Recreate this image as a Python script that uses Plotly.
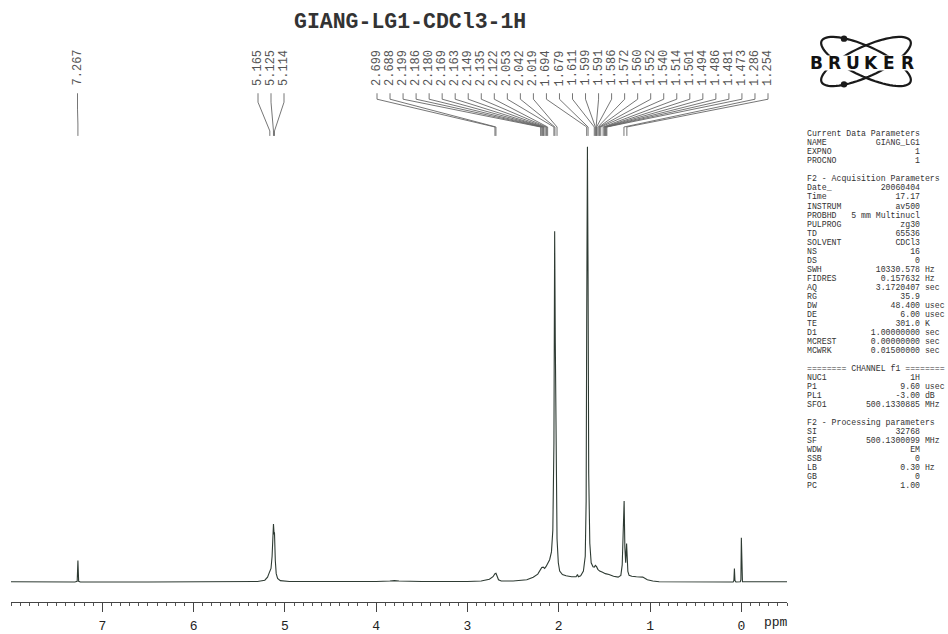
import math
import plotly.graph_objects as go

W, H = 948, 634

# ---------------- data ----------------
title_text = "GIANG-LG1-CDCl3-1H"

ppm = [8.00, 7.60, 7.30, 7.275, 7.267, 7.259, 7.24, 6.50, 5.60, 5.30, 5.22, 5.19, 5.175, 5.165,
       5.152, 5.14, 5.13, 5.125, 5.118, 5.114, 5.105, 5.095, 5.08, 5.05, 4.95, 4.50, 4.00, 3.85,
       3.80, 3.75, 3.50, 3.00, 2.85, 2.76, 2.72, 2.699, 2.688, 2.675, 2.66, 2.63, 2.50, 2.35,
       2.28, 2.23, 2.199, 2.186, 2.17, 2.155, 2.14, 2.122, 2.10, 2.08, 2.065, 2.053, 2.045,
       2.038, 2.030, 2.019, 2.005, 1.99, 1.96, 1.92, 1.86, 1.81, 1.795, 1.785, 1.76, 1.73,
       1.71, 1.700, 1.694, 1.686, 1.679, 1.672, 1.66, 1.645, 1.625, 1.611, 1.599, 1.586, 1.572,
       1.552, 1.52, 1.49, 1.45, 1.40, 1.35, 1.32, 1.305, 1.295, 1.284, 1.276, 1.267, 1.257,
       1.251, 1.243, 1.23, 1.20, 1.15, 1.08, 1.03, 0.97, 0.90, 0.50, 0.09, 0.082, 0.076, 0.070,
       0.060, 0.012, 0.005, 0.000, -0.005, -0.012, -0.50]
intensity = [0.15, 0.1, 0.1, 0.25, 5.0, 0.25, 0.1, 0.1, 0.1, 0.2, 0.5, 1.2, 2.0, 2.6,
             3.2, 6.0, 11.5, 13.4, 11.0, 11.5, 5.0, 2.0, 0.9, 0.4, 0.2, 0.15, 0.2, 0.3,
             0.4, 0.3, 0.2, 0.2, 0.3, 0.7, 1.3, 2.0, 2.1, 1.4, 0.6, 0.3, 0.3, 0.6,
             1.2, 1.9, 2.8, 3.4, 3.5, 3.2, 3.6, 4.3, 5.2, 7.0, 12.0, 32.0, 80.6,
             55.0, 22.0, 10.0, 4.5, 2.6, 1.8, 1.5, 1.3, 1.3, 1.8, 1.3, 1.5, 2.6,
             6.0, 18.7, 60.0, 100.0, 70.0, 25.0, 9.0, 4.5, 3.6, 3.5, 3.9, 3.6, 3.0,
             2.6, 2.3, 2.0, 1.8, 1.4, 1.2, 1.6, 4.0, 10.0, 18.7, 8.0, 4.5, 8.9,
             6.0, 2.5, 1.6, 1.4, 1.3, 1.2, 0.6, 0.3, 0.15, 0.1, 0.1, 0.4, 3.2, 0.4,
             0.1, 0.15, 0.6, 10.25, 0.6, 0.15, 0.15]

labels_single = [7.267]
labels_olefin = [5.165, 5.125, 5.114]
labels_aliph = [2.699, 2.688, 2.199, 2.186, 2.180, 2.169, 2.163, 2.149, 2.135, 2.122,
                2.053, 2.042, 2.019, 1.694, 1.679, 1.611, 1.599, 1.591, 1.586, 1.572,
                1.560, 1.552, 1.540, 1.514, 1.501, 1.494, 1.486, 1.481, 1.473, 1.286, 1.254]

tick_values = [0, 1, 2, 3, 4, 5, 6, 7]
tick_texts = ["0", "1", "2", "3", "4", "5", "6", "7"]

param_rows = [
    ("Current Data Parameters", "", ""),
    ("NAME", "GIANG_LG1", ""),
    ("EXPNO", "1", ""),
    ("PROCNO", "1", ""),
    ("", "", ""),
    ("F2 - Acquisition Parameters", "", ""),
    ("Date_", "20060404", ""),
    ("Time", "17.17", ""),
    ("INSTRUM", "av500", ""),
    ("PROBHD", "5 mm Multinucl", ""),
    ("PULPROG", "zg30", ""),
    ("TD", "65536", ""),
    ("SOLVENT", "CDCl3", ""),
    ("NS", "16", ""),
    ("DS", "0", ""),
    ("SWH", "10330.578", "Hz"),
    ("FIDRES", "0.157632", "Hz"),
    ("AQ", "3.1720407", "sec"),
    ("RG", "35.9", ""),
    ("DW", "48.400", "usec"),
    ("DE", "6.00", "usec"),
    ("TE", "301.0", "K"),
    ("D1", "1.00000000", "sec"),
    ("MCREST", "0.00000000", "sec"),
    ("MCWRK", "0.01500000", "sec"),
    ("", "", ""),
    ("======== CHANNEL f1 ========", "", ""),
    ("NUC1", "1H", ""),
    ("P1", "9.60", "usec"),
    ("PL1", "-3.00", "dB"),
    ("SFO1", "500.1330885", "MHz"),
    ("", "", ""),
    ("F2 - Processing parameters", "", ""),
    ("SI", "32768", ""),
    ("SF", "500.1300099", "MHz"),
    ("WDW", "EM", ""),
    ("SSB", "0", ""),
    ("LB", "0.30", "Hz"),
    ("GB", "0", ""),
    ("PC", "1.00", ""),
]

# ---------------- layout helpers (screen pixels -> paper) ----------------
OFF = 0                      # body margin removed by post script
FW, FH = W - OFF, H - OFF    # figure size
X0, X1 = 11, 787             # plot area in screen pixels
Y_TOP, Y_BOT = 140, 607
XR = [8.0, -0.5]
YR = [-4.556, 101.82]
PX_PER_PPM = (X1 - X0) / (XR[0] - XR[1])


def px2ppm(px):
    return XR[0] - (px - X0) / PX_PER_PPM


def pyp(py):
    return 1 - (py - OFF) / FH


def pxp(px):
    return (px - OFF) / FW


LINE_COL = "#2e3b33"
TXT_COL = "#555555"
MONO = "Liberation Mono, Courier New, monospace"

fig = go.Figure()
fig.add_trace(go.Scatter(x=ppm, y=intensity, mode="lines",
                         line=dict(color=LINE_COL, width=1.1),
                         hoverinfo="skip", showlegend=False))

shapes = []
annotations = []


def add_group(values, label_px, y_top, y_bend1, y_bend2, y_end):
    for v, lx_px in zip(values, label_px):
        lx = px2ppm(lx_px)
        path = (f"M {lx},{pyp(y_top)} L {lx},{pyp(y_bend1)} "
                f"L {v},{pyp(y_bend2)} L {v},{pyp(y_end)}")
        shapes.append(dict(type="path", xref="x", yref="paper", path=path,
                           line=dict(color="#666666", width=0.9)))
        annotations.append(dict(x=lx, xref="x", y=pyp(68.5), yref="paper",
                                text=f"{v:.3f}", textangle=-90, showarrow=False,
                                xanchor="center", yanchor="middle",
                                font=dict(family=MONO, size=12, color=TXT_COL)))


add_group(labels_single, [77.5], 94, 110, 125, 137)
add_group(labels_olefin, [258, 271, 284], 94, 103, 132, 137)
n = len(labels_aliph)
aliph_px = [377 + i * (768 - 377) / (n - 1) for i in range(n)]
add_group(labels_aliph, aliph_px, 94, 100, 128, 137)

# title
annotations.append(dict(x=pxp(410), y=pyp(22), xref="paper", yref="paper",
                        text=title_text, showarrow=False, xanchor="center", yanchor="middle",
                        font=dict(family=MONO, size=21.5, color="#333333", weight="bold")))

# ppm unit label
annotations.append(dict(x=pxp(776), y=pyp(627), xref="paper", yref="paper",
                        text="ppm", showarrow=False, xanchor="center", yanchor="middle",
                        font=dict(family=MONO, size=13, color="#222222")))

# parameter panel
NB = "\u00a0"
for i, (name, val, unit) in enumerate(param_rows):
    if not name:
        continue
    if val:
        line = name + NB * max(1, 23 - len(name) - len(val)) + val.replace(" ", NB)
        if unit:
            line += NB + unit
    else:
        line = name.replace(" ", NB)
    annotations.append(dict(x=pxp(805), y=pyp(135 + i * 9.08), xref="paper", yref="paper",
                            text=line, showarrow=False, xanchor="left", yanchor="middle",
                            font=dict(family=MONO, size=8.2, color="#333333")))

# Bruker logo (decoration)
cx, cy, a, b = 866, 62, 49, 15
for sgn in (1, -1):
    th = math.radians(25) * sgn
    pts = []
    for k in range(73):
        t = 2 * math.pi * k / 72
        ex = cx + a * math.cos(t) * math.cos(th) - b * math.sin(t) * math.sin(th)
        ey = cy + a * math.cos(t) * math.sin(th) + b * math.sin(t) * math.cos(th)
        pts.append(f"{pxp(ex):.5f},{pyp(ey):.5f}")
    shapes.append(dict(type="path", xref="paper", yref="paper",
                       path="M " + " L ".join(pts) + " Z",
                       line=dict(color="#1a1a1a", width=2.2)))
shapes.append(dict(type="rect", xref="paper", yref="paper",
                   x0=pxp(805), x1=pxp(920), y0=pyp(71), y1=pyp(56),
                   fillcolor="white", line=dict(width=0)))
for dx, dy in ((844, 39), (844, 85)):
    shapes.append(dict(type="circle", xref="paper", yref="paper",
                       x0=pxp(dx - 3.2), x1=pxp(dx + 3.2), y0=pyp(dy + 3.2), y1=pyp(dy - 3.2),
                       fillcolor="#1a1a1a", line=dict(width=0)))
for i, ch in enumerate("BRUKER"):
    annotations.append(dict(x=pxp(807 + 9 + i * 18.3), y=pyp(63.5), xref="paper", yref="paper",
                            text=ch, showarrow=False, xanchor="center", yanchor="middle",
                            font=dict(family="DejaVu Sans, Arial, sans-serif", size=17,
                                      color="#111111", weight="bold")))

fig.update_layout(
    width=FW, height=FH,
    margin=dict(l=0, r=0, t=0, b=0),
    paper_bgcolor="white", plot_bgcolor="white",
    showlegend=False,
    shapes=shapes, annotations=annotations,
    xaxis=dict(domain=[pxp(X0), pxp(X1)], range=XR, showgrid=False, zeroline=False,
               showline=True, linecolor="#444444", linewidth=1,
               tickmode="array", tickvals=tick_values, ticktext=tick_texts,
               ticks="outside", ticklen=9, tickcolor="#444444", tickwidth=1,
               ticklabelstandoff=2,
               tickfont=dict(family=MONO, size=13, color="#222222"),
               minor=dict(dtick=0.1, tick0=0, ticks="outside", ticklen=3,
                          tickcolor="#555555", showgrid=False)),
    yaxis=dict(domain=[pyp(Y_BOT), pyp(Y_TOP)], range=YR, visible=False,
               showgrid=False, zeroline=False),
)

fig.write_html("out.html",
               config={"displayModeBar": False},
               post_script="document.body.style.margin='0px';"
                           "document.body.style.overflow='hidden';")
